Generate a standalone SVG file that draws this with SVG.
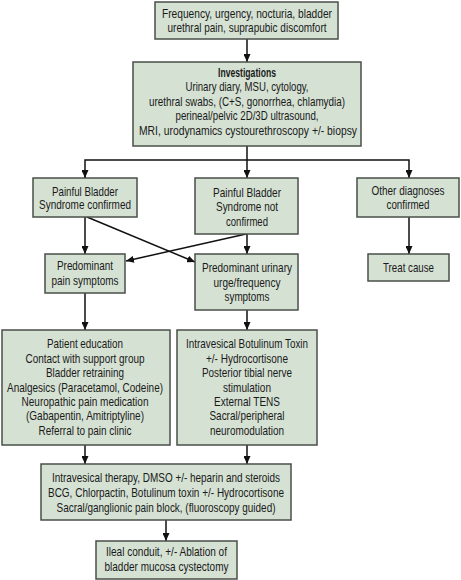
<svg xmlns="http://www.w3.org/2000/svg" width="461" height="580" viewBox="0 0 461 580">
<style>
.box{fill:#d5e1d3;stroke:#4a4f4a;stroke-width:1.5}
text{font-family:"Liberation Sans",Arial,sans-serif;font-size:13px;fill:#1a1a1a;text-anchor:middle}
.b{font-weight:bold}
.c{fill:none;stroke:#111;stroke-width:1.5}
</style>
<defs>
<marker id="ah" markerUnits="userSpaceOnUse" markerWidth="8" markerHeight="7" refX="8" refY="3.5" orient="auto">
<path d="M0,0 L8,3.5 L0,7 z" fill="#111"/>
</marker>
</defs>
<rect width="461" height="580" fill="#fff"/>
<g id="connectors">
<line class="c" x1="247" y1="39" x2="247" y2="62" marker-end="url(#ah)"/>
<line class="c" x1="247" y1="146" x2="247" y2="178" marker-end="url(#ah)"/>
<polyline class="c" points="85,178 85,160 409,160 409,178" marker-end="url(#ah)"/>
<line class="c" x1="85" y1="170" x2="85" y2="178" marker-end="url(#ah)"/>
<line class="c" x1="85" y1="217" x2="85" y2="254" marker-end="url(#ah)"/>
<line class="c" x1="247" y1="234" x2="247" y2="254" marker-end="url(#ah)"/>
<line class="c" x1="409" y1="217" x2="409" y2="254" marker-end="url(#ah)"/>
<line class="c" x1="87" y1="217" x2="195" y2="262" marker-end="url(#ah)"/>
<line class="c" x1="246" y1="234" x2="126" y2="261" marker-end="url(#ah)"/>
<line class="c" x1="85" y1="293" x2="85" y2="330" marker-end="url(#ah)"/>
<line class="c" x1="247" y1="310" x2="247" y2="330" marker-end="url(#ah)"/>
<line class="c" x1="85" y1="445" x2="85" y2="464" marker-end="url(#ah)"/>
<line class="c" x1="247" y1="445" x2="247" y2="464" marker-end="url(#ah)"/>
<line class="c" x1="166" y1="520" x2="166" y2="541" marker-end="url(#ah)"/>
</g>
<g id="symptoms">
<rect class="box" x="155" y="2" width="183" height="37"/>
<text x="247" y="18" textLength="170" lengthAdjust="spacingAndGlyphs">Frequency, urgency, nocturia, bladder</text>
<text x="247" y="32" textLength="159" lengthAdjust="spacingAndGlyphs">urethral pain, suprapubic discomfort</text>
</g>
<g id="investigations">
<rect class="box" x="133" y="62" width="228" height="84"/>
<text class="b" x="247" y="77" textLength="58" lengthAdjust="spacingAndGlyphs">Investigations</text>
<text x="247" y="91" textLength="123" lengthAdjust="spacingAndGlyphs">Urinary diary, MSU, cytology,</text>
<text x="247" y="105.5" textLength="196" lengthAdjust="spacingAndGlyphs">urethral swabs, (C+S, gonorrhea, chlamydia)</text>
<text x="247" y="120" textLength="143" lengthAdjust="spacingAndGlyphs">perineal/pelvic 2D/3D ultrasound,</text>
<text x="248" y="135" textLength="218" lengthAdjust="spacingAndGlyphs">MRI, urodynamics cystourethroscopy +/- biopsy</text>
</g>
<g id="pbs-confirmed">
<rect class="box" x="33" y="178" width="104" height="39"/>
<text x="85" y="195.5" textLength="66" lengthAdjust="spacingAndGlyphs">Painful Bladder</text>
<text x="85" y="209" textLength="92" lengthAdjust="spacingAndGlyphs">Syndrome confirmed</text>
</g>
<g id="pbs-not-confirmed">
<rect class="box" x="195" y="178" width="103" height="56"/>
<text x="247" y="196.5" textLength="68" lengthAdjust="spacingAndGlyphs">Painful Bladder</text>
<text x="247" y="210.5" textLength="62" lengthAdjust="spacingAndGlyphs">Syndrome not</text>
<text x="247" y="225.5" textLength="42" lengthAdjust="spacingAndGlyphs">confirmed</text>
</g>
<g id="other-diagnoses">
<rect class="box" x="357" y="178" width="102" height="39"/>
<text x="408" y="194.5" textLength="73" lengthAdjust="spacingAndGlyphs">Other diagnoses</text>
<text x="408" y="208.5" textLength="43" lengthAdjust="spacingAndGlyphs">confirmed</text>
</g>
<g id="pain-symptoms">
<rect class="box" x="45" y="254" width="80" height="39"/>
<text x="85" y="270" textLength="56" lengthAdjust="spacingAndGlyphs">Predominant</text>
<text x="85" y="285" textLength="67" lengthAdjust="spacingAndGlyphs">pain symptoms</text>
</g>
<g id="urge-symptoms">
<rect class="box" x="195" y="254" width="103" height="56"/>
<text x="247" y="271.5" textLength="90" lengthAdjust="spacingAndGlyphs">Predominant urinary</text>
<text x="247" y="286.5" textLength="67" lengthAdjust="spacingAndGlyphs">urge/frequency</text>
<text x="247" y="300.5" textLength="45" lengthAdjust="spacingAndGlyphs">symptoms</text>
</g>
<g id="treat-cause">
<rect class="box" x="368" y="254" width="81" height="27"/>
<text x="408.5" y="271.5" textLength="51" lengthAdjust="spacingAndGlyphs">Treat cause</text>
</g>
<g id="pain-treatment">
<rect class="box" x="2" y="330" width="168" height="115"/>
<text x="85" y="348" textLength="76" lengthAdjust="spacingAndGlyphs">Patient education</text>
<text x="85" y="362.5" textLength="119" lengthAdjust="spacingAndGlyphs">Contact with support group</text>
<text x="85" y="377" textLength="78" lengthAdjust="spacingAndGlyphs">Bladder retraining</text>
<text x="85" y="391.5" textLength="156" lengthAdjust="spacingAndGlyphs">Analgesics (Paracetamol, Codeine)</text>
<text x="85" y="405.5" textLength="127" lengthAdjust="spacingAndGlyphs">Neuropathic pain medication</text>
<text x="85" y="420" textLength="118" lengthAdjust="spacingAndGlyphs">(Gabapentin, Amitriptyline)</text>
<text x="85" y="434.5" textLength="93" lengthAdjust="spacingAndGlyphs">Referral to pain clinic</text>
</g>
<g id="urge-treatment">
<rect class="box" x="177" y="330" width="140" height="115"/>
<text x="247" y="348" textLength="122" lengthAdjust="spacingAndGlyphs">Intravesical Botulinum Toxin</text>
<text x="247" y="362.5" textLength="82" lengthAdjust="spacingAndGlyphs">+/- Hydrocortisone</text>
<text x="247" y="377" textLength="90" lengthAdjust="spacingAndGlyphs">Posterior tibial nerve</text>
<text x="247" y="391.5" textLength="48" lengthAdjust="spacingAndGlyphs">stimulation</text>
<text x="247" y="405.5" textLength="66" lengthAdjust="spacingAndGlyphs">External TENS</text>
<text x="247" y="420" textLength="75" lengthAdjust="spacingAndGlyphs">Sacral/peripheral</text>
<text x="247" y="434.5" textLength="74" lengthAdjust="spacingAndGlyphs">neuromodulation</text>
</g>
<g id="intravesical-therapy">
<rect class="box" x="41" y="464" width="250" height="56"/>
<text x="166" y="481.5" textLength="228" lengthAdjust="spacingAndGlyphs">Intravesical therapy, DMSO +/- heparin and steroids</text>
<text x="166" y="496.5" textLength="236" lengthAdjust="spacingAndGlyphs">BCG, Chlorpactin, Botulinum toxin +/- Hydrocortisone</text>
<text x="166" y="511.5" textLength="219" lengthAdjust="spacingAndGlyphs">Sacral/ganglionic pain block, (fluoroscopy guided)</text>
</g>
<g id="surgery">
<rect class="box" x="96" y="541" width="141" height="38"/>
<text x="166.5" y="556" textLength="121" lengthAdjust="spacingAndGlyphs">Ileal conduit, +/- Ablation of</text>
<text x="166.5" y="570.5" textLength="124" lengthAdjust="spacingAndGlyphs">bladder mucosa cystectomy</text>
</g>
</svg>
